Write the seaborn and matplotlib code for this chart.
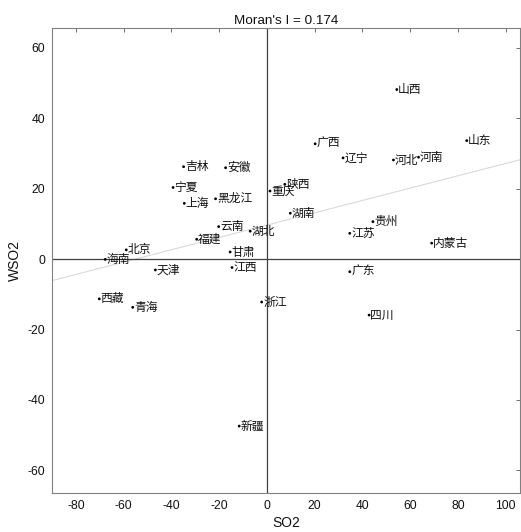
import numpy as np
import pandas as pd
import seaborn as sns
import matplotlib
matplotlib.use("Agg")
import matplotlib.pyplot as plt

# ------------------------------------------------------------
# Données
# ------------------------------------------------------------
provinces = ["吉林", "安徽", "宁夏", "上海", "黑龙江", "重庆", "云南", "湖北",
             "福建", "北京", "海南", "甘肃", "天津", "江西", "西藏", "青海",
             "浙江", "山西", "广西", "辽宁", "河北", "河南", "山东", "陕西",
             "湖南", "贵州", "江苏", "内蒙古", "广东", "四川", "新疆"]
so2 = [-34.9, -17.3, -39.3, -34.6, -21.5, 1.3, -20.2, -7.0,
       -29.4, -58.9, -67.7, -15.4, -46.7, -14.6, -70.2, -56.2,
       -2.2, 54.4, 20.2, 31.9, 53.0, 63.5, 83.7, 7.5,
       9.8, 44.4, 34.7, 69.0, 34.7, 42.8, -11.6]
wso2 = [26.2, 25.9, 20.3, 15.8, 17.1, 19.3, 9.2, 7.9,
        5.6, 2.6, -0.1, 2.0, -3.1, -2.4, -11.3, -13.7,
        -12.2, 48.1, 32.7, 28.7, 28.1, 28.9, 33.6, 21.2,
        13.0, 10.6, 7.3, 4.5, -3.6, -15.9, -47.4]
moran_i = 0.174

df = pd.DataFrame({"province": provinces, "SO2": so2, "WSO2": wso2})

# ------------------------------------------------------------
# Style
# ------------------------------------------------------------
sns.set_style("white")
plt.rcParams["font.family"] = ["Liberation Sans", "Noto Sans CJK SC", "DejaVu Sans"]
plt.rcParams["axes.unicode_minus"] = False

fig = plt.figure(figsize=(5.21, 5.32), dpi=100)
ax = fig.add_axes([52 / 521, 0.0739, (520 - 52) / 521, 0.947 - 0.0739])

xlim = (-90, 106)
ylim = (-66.3, 65.5)

# droite de régression (OLS)
slope, intercept = np.polyfit(df["SO2"], df["WSO2"], 1)
xs = np.array(xlim)
ax.plot(xs, slope * xs + intercept, color="#d9d9d9", lw=0.8, zorder=1)

# axes à zéro
ax.axhline(0, color="#404040", lw=0.9, zorder=2)
ax.axvline(0, color="#404040", lw=0.9, zorder=2)

sns.scatterplot(data=df, x="SO2", y="WSO2", ax=ax, color="black", s=4,
                edgecolor="none", zorder=3, legend=False)

for name, x, y in zip(df["province"], df["SO2"], df["WSO2"]):
    ax.annotate(name, (x, y), xytext=(1, 0), textcoords="offset points",
                ha="left", va="center", fontsize=8.5,
                family=["Noto Sans CJK SC", "DejaVu Sans"], color="#111111")

ax.set_xlim(*xlim)
ax.set_ylim(*ylim)
ax.set_xticks(np.arange(-80, 101, 20))
ax.set_yticks(np.arange(-60, 61, 20))
ax.tick_params(direction="in", top=True, right=True, length=3, width=0.6,
               color="#555555", labelsize=8.7, labelcolor="#111111", pad=5)
for sp in ax.spines.values():
    sp.set_color("#808080")
    sp.set_linewidth(0.8)

ax.set_xlabel("SO2", fontsize=10, color="#111111", labelpad=3)
ax.set_ylabel("WSO2", fontsize=10, color="#111111", labelpad=4)
ax.set_title(f"Moran's I = {moran_i}", fontsize=9.7, color="#111111", pad=3)

fig.savefig("out.png", dpi=100)
